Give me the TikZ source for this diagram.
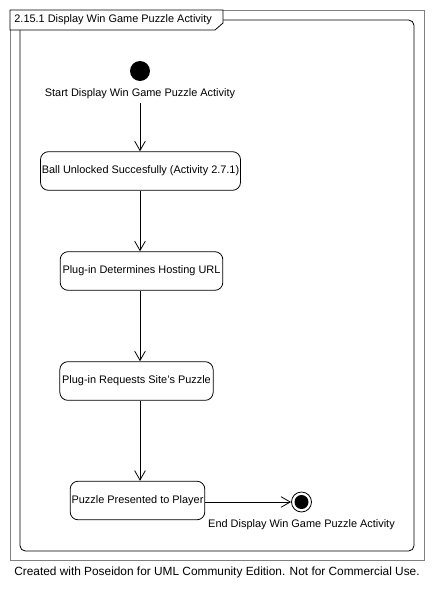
\documentclass[tikz,border=0pt]{standalone}
\usepackage{fontspec}
\setmainfont{Liberation Sans}
\usepackage{xcolor}
\usepackage{tikz}
\usetikzlibrary{arrows.meta,positioning}
\definecolor{frameGray}{RGB}{128,128,128}
\tikzset{
  act/.style={draw,rounded corners=6pt,minimum height=29pt,inner sep=0.5pt,
              font=\fontsize{8.2}{9.8}\selectfont,align=center},
  lbl/.style={font=\fontsize{8.2}{9.8}\selectfont,inner sep=0pt},
  arr/.style={-{Straight Barb[length=7pt,width=8pt]},line width=0.6pt},
}

\begin{document}
\begin{tikzpicture}[x=0.75pt,y=-0.75pt,line width=0.6pt]
  \useasboundingbox (0,0) rectangle (434,593);
  % frames
  \draw[frameGray] (10,10) rectangle (424,560);
  \draw[rounded corners=4pt] (20,20) rectangle (414,551);
  \draw[fill=white] (10,10) -- (223,10) -- (223,23) -- (215,30) -- (10,30) -- cycle;
  \node[lbl,anchor=west] (ttl) at (14,20) {2.15.1 Display Win Game Puzzle Activity};
  % states
  \node[circle,fill=black,minimum size=15pt,inner sep=0pt] (start) at (140,71) {};
  \node[lbl,below=5pt of start] (startl) {Start Display Win Game Puzzle Activity};
  \node[act,minimum width=150pt] (unlock) at (140.5,171) {Ball Unlocked Succesfully (Activity 2.7.1)};
  \node[act,minimum width=122pt] (host)   at (141.5,271) {Plug-in Determines Hosting URL};
  \node[act,minimum width=115pt] (req)    at (136.5,381) {Plug-in Requests Site's Puzzle};
  \node[act,minimum width=101pt] (shown)  at (137.5,500.5) {Puzzle Presented to Player};
  \node[circle,draw,minimum size=15pt,inner sep=0pt] (stop) at (301.5,502) {};
  \node[circle,fill=black,minimum size=10.5pt,inner sep=0pt] (stopdot) at (stop) {};
  \node[lbl,below=5pt of stop] (stopl) {End Display Win Game Puzzle Activity};
  \draw[arr,shorten <=3pt] (start |- startl.south) -- (start |- unlock.north);
  \foreach \a/\b in {unlock/host,host/req,req/shown}
    \draw[arr] (start |- \a.south) -- (start |- \b.north);
  \draw[arr] (shown.east |- stop) -- (stop.west);
  \node[font=\fontsize{8.9}{10.7}\selectfont,inner sep=0pt] (credit) at (217,572)
    {Created with Poseidon for UML Community Edition. Not for Commercial Use.};
\end{tikzpicture}
\end{document}
